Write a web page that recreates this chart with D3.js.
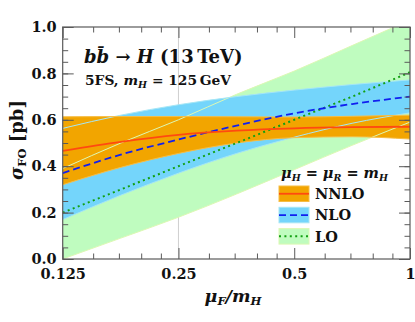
<!DOCTYPE html>
<html>
<head>
<meta charset="utf-8">
<script src="https://cdn.jsdelivr.net/npm/d3@7"></script>
<style>
  body { margin: 0; background: #fff; }
  svg text { font-family: "DejaVu Serif", serif; font-weight: bold; fill: #111; }
</style>
</head>
<body>
<div class="graph"></div>
<script>
const width = 415;
const height = 322;
const padding = { left: 62.7, top: 27, right: 5, bottom: 63 };

// mu_F / m_H sample points (one every half octave)
const muF = [0.125, 0.177, 0.25, 0.354, 0.5, 0.707, 1.0];

const loCentral = [0.20, 0.30, 0.40, 0.50, 0.60, 0.70, 0.805];
const loLow     = [0.00, 0.09, 0.18, 0.28, 0.385, 0.49, 0.59];
const loHigh    = [0.39, 0.50, 0.60, 0.71, 0.81, 0.92, 1.03];

const nloCentral = [0.37, 0.45, 0.515, 0.575, 0.628, 0.668, 0.70];
const nloLow     = [0.17, 0.275, 0.37, 0.455, 0.525, 0.585, 0.63];
const nloHigh    = [0.563, 0.62, 0.665, 0.70, 0.728, 0.752, 0.772];

const nnloCentral = [0.466, 0.505, 0.535, 0.553, 0.563, 0.568, 0.57];
const nnloLow     = [0.32, 0.395, 0.455, 0.50, 0.523, 0.527, 0.517];
const nnloHigh    = [0.613, 0.614, 0.614, 0.613, 0.612, 0.615, 0.62];

const xMajor = [0.125, 0.25, 0.5, 1];
const xMinor = [0.15, 0.175, 0.2, 0.225, 0.3, 0.35, 0.4, 0.45, 0.6, 0.7, 0.8, 0.9];
const xLabels = ["0.125", "0.25", "0.5", "1"];

const orders = [
  { name: "LO",   low: loLow,   high: loHigh,   mid: loCentral,   fill: "#bffcbf", edge: "#dcf8b4", line: "#12a012", dash: "2,3.4", lw: 2 },
  { name: "NLO",  low: nloLow,  high: nloHigh,  mid: nloCentral,  fill: "#74d5fb", edge: "#a6e6f5", line: "#1020f0", dash: "7,4",   lw: 1.8 },
  { name: "NNLO", low: nnloLow, high: nnloHigh, mid: nnloCentral, fill: "#f2a500", edge: "#f6bd45", line: "#ff4a10", dash: null,    lw: 1.8 }
];

const svg = d3.select('.graph').append('svg')
  .attr('width', width)
  .attr('height', height);

const x = d3.scaleLog().base(2)
  .domain([0.125, 1])
  .range([padding.left, width - padding.right]);
const y = d3.scaleLinear()
  .domain([0, 1])
  .range([height - padding.bottom, padding.top]);

svg.append('clipPath').attr('id', 'plot-clip')
  .append('rect')
  .attr('x', x(0.125)).attr('y', y(1))
  .attr('width', x(1) - x(0.125)).attr('height', y(0) - y(1));

const plot = svg.append('g').attr('clip-path', 'url(#plot-clip)');

// central scale marker mu_F = m_H/4
plot.append('line')
  .attr('x1', x(0.25)).attr('x2', x(0.25))
  .attr('y1', y(0)).attr('y2', y(1))
  .attr('stroke', '#cfcfcf').attr('stroke-width', 1);

const area = (o) => d3.area()
  .x((d, i) => x(muF[i]))
  .y0((d, i) => y(o.low[i]))
  .y1((d, i) => y(o.high[i]))
  .curve(d3.curveMonotoneX);

const edge = (arr) => d3.line()
  .x((d, i) => x(muF[i]))
  .y((d, i) => y(arr[i]))
  .curve(d3.curveMonotoneX);

orders.forEach(o => {
  plot.append('path')
    .datum(muF)
    .attr('d', area(o))
    .attr('fill', o.fill);
});

// band edges drawn over all fills
orders.forEach(o => {
  [o.low, o.high].forEach(arr => {
    plot.append('path')
      .datum(muF)
      .attr('d', edge(arr))
      .attr('fill', 'none')
      .attr('stroke', o.edge)
      .attr('stroke-width', 1);
  });
});

orders.forEach(o => {
  plot.append('path')
    .datum(muF)
    .attr('d', edge(o.mid))
    .attr('fill', 'none')
    .attr('stroke', o.line)
    .attr('stroke-width', o.lw)
    .attr('stroke-dasharray', o.dash);
});

/* axes with inward ticks */
const tickColor = '#5a5a5a';
function styleAxis(g) {
  g.selectAll('.domain').remove();
  g.selectAll('line').attr('stroke', tickColor).attr('stroke-width', 1);
  g.selectAll('text')
    .style('font-family', '"DejaVu Serif", serif')
    .style('font-weight', 'bold')
    .style('font-size', '14.5px')
    .attr('fill', '#111');
}

svg.append('g')
  .attr('transform', `translate(0,${y(0)})`)
  .call(d3.axisBottom(x).tickValues(xMajor).tickSizeInner(-11).tickSizeOuter(0)
    .tickPadding(7).tickFormat((d, i) => xLabels[i]))
  .call(styleAxis)
  .selectAll('text').attr('dy', '0.95em').attr('y', 6);
svg.append('g')
  .attr('transform', `translate(0,${y(0)})`)
  .call(d3.axisBottom(x).tickValues(xMinor).tickSizeInner(-5.5).tickSizeOuter(0).tickFormat(''))
  .call(styleAxis);
svg.append('g')
  .attr('transform', `translate(0,${y(1)})`)
  .call(d3.axisTop(x).tickValues(xMajor).tickSizeInner(-11).tickSizeOuter(0).tickFormat(''))
  .call(styleAxis);
svg.append('g')
  .attr('transform', `translate(0,${y(1)})`)
  .call(d3.axisTop(x).tickValues(xMinor).tickSizeInner(-5.5).tickSizeOuter(0).tickFormat(''))
  .call(styleAxis);

svg.append('g')
  .attr('transform', `translate(${x(0.125)},0)`)
  .call(d3.axisLeft(y).ticks(5).tickSizeInner(-11).tickSizeOuter(0)
    .tickPadding(6).tickFormat(d3.format('.1f')))
  .call(styleAxis);
svg.append('g')
  .attr('transform', `translate(${x(0.125)},0)`)
  .call(d3.axisLeft(y).ticks(20).tickSizeInner(-5.5).tickSizeOuter(0).tickFormat(''))
  .call(styleAxis);
svg.append('g')
  .attr('transform', `translate(${x(1)},0)`)
  .call(d3.axisRight(y).ticks(5).tickSizeInner(-11).tickSizeOuter(0).tickFormat(''))
  .call(styleAxis);
svg.append('g')
  .attr('transform', `translate(${x(1)},0)`)
  .call(d3.axisRight(y).ticks(20).tickSizeInner(-5.5).tickSizeOuter(0).tickFormat(''))
  .call(styleAxis);

// frame
svg.append('rect')
  .attr('x', x(0.125)).attr('y', y(1))
  .attr('width', x(1) - x(0.125)).attr('height', y(0) - y(1))
  .attr('fill', 'none').attr('stroke', tickColor).attr('stroke-width', 1.2);

/* labels */
const title = svg.append('text').attr('x', 84).attr('y', 63).style('font-size', '18px');
title.append('tspan').style('font-style', 'italic').text('b');
title.append('tspan').style('font-style', 'italic').text('b\u0304');
title.append('tspan').text(' \u2192 ');
title.append('tspan').style('font-style', 'italic').text('H');
title.append('tspan').text('  (13\u2009TeV)');

const sub = svg.append('text').attr('x', 85).attr('y', 85).style('font-size', '13.8px');
sub.append('tspan').text('5FS, ');
sub.append('tspan').style('font-style', 'italic').text('m');
sub.append('tspan').style('font-style', 'italic').style('font-size', '9.5px').attr('dy', 3).text('H');
sub.append('tspan').attr('dy', -3).text(' = 125\u2009GeV');

const ylab = svg.append('text')
  .attr('transform', 'translate(23,140) rotate(-90)')
  .attr('text-anchor', 'middle')
  .style('font-size', '18px');
ylab.append('tspan').style('font-style', 'italic').text('\u03c3');
ylab.append('tspan').style('font-size', '11.5px').attr('dy', 3).text('FO');
ylab.append('tspan').attr('dy', -3).text(' [pb]');

const xlab = svg.append('text')
  .attr('x', 233).attr('y', 302)
  .attr('text-anchor', 'middle')
  .style('font-size', '17.5px').style('font-style', 'italic');
xlab.append('tspan').text('\u03bc');
xlab.append('tspan').style('font-size', '11.5px').attr('dy', 3).text('F');
xlab.append('tspan').attr('dy', -3).text('/m');
xlab.append('tspan').style('font-size', '11.5px').attr('dy', 3).text('H');

/* legend */
const legHead = svg.append('text').attr('x', 281).attr('y', 178)
  .style('font-size', '14.5px').style('font-style', 'italic');
legHead.append('tspan').text('\u03bc');
legHead.append('tspan').style('font-size', '9.5px').attr('dy', 3).text('H');
legHead.append('tspan').attr('dy', -3).text(' = \u03bc');
legHead.append('tspan').style('font-size', '9.5px').attr('dy', 3).text('R');
legHead.append('tspan').attr('dy', -3).text(' = m');
legHead.append('tspan').style('font-size', '9.5px').attr('dy', 3).text('H');

const legendOrder = ["NNLO", "NLO", "LO"];
const legend = svg.append('g').selectAll('g')
  .data(legendOrder.map(n => orders.find(o => o.name === n)))
  .enter().append('g')
  .attr('transform', (d, i) => `translate(279,${186 + i * 21.3})`);

legend.append('rect')
  .attr('width', 30).attr('height', 15.5)
  .attr('fill', d => d.fill)
  .attr('stroke', d => d.edge).attr('stroke-width', 1);
legend.append('line')
  .attr('x1', 0).attr('x2', 30).attr('y1', 7.75).attr('y2', 7.75)
  .attr('stroke', d => d.line).attr('stroke-width', d => d.lw)
  .attr('stroke-dasharray', d => d.dash);
legend.append('text')
  .attr('x', 36).attr('y', 13)
  .style('font-size', '14.5px')
  .text(d => d.name);
</script>
</body>
</html>
